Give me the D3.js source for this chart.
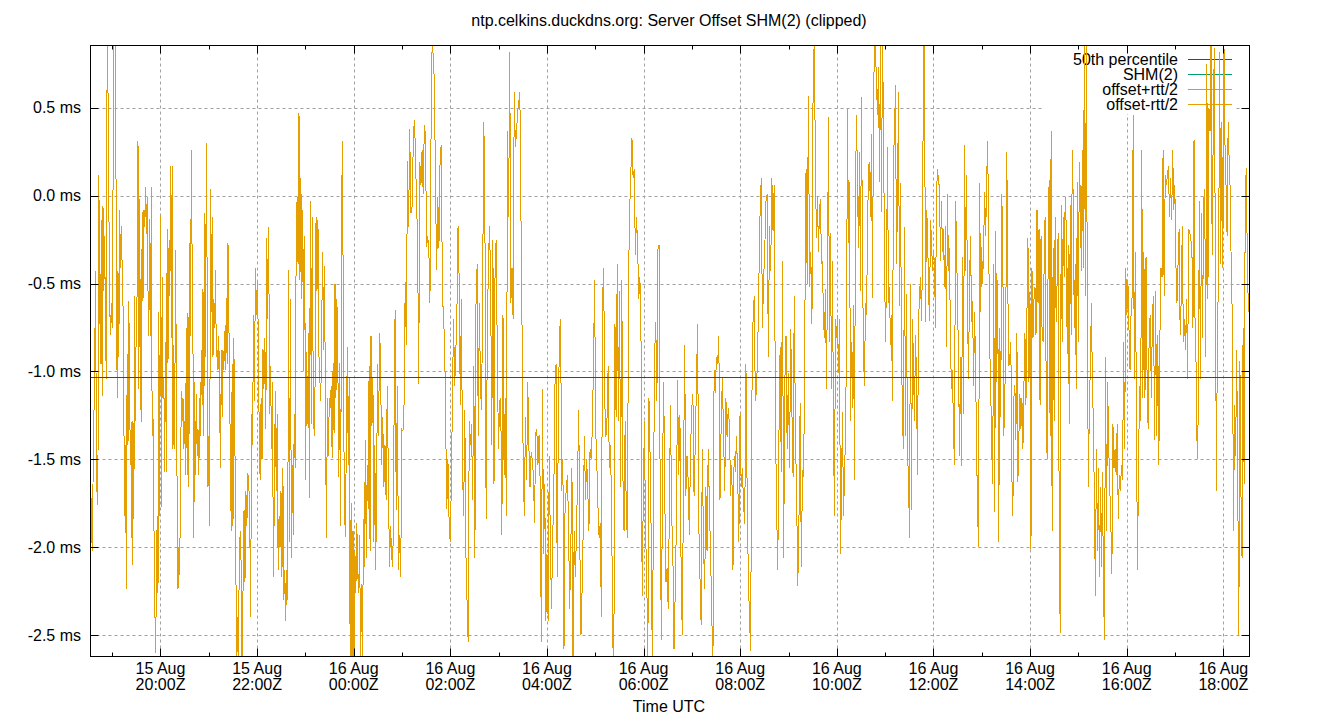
<!DOCTYPE html>
<meta charset="utf-8">
<style>
  body { margin: 0; background: #fff; }
  text { font-family: "Liberation Sans", Arial, sans-serif; font-size: 16px; fill: #000; }
</style>

<!-- Load d3.js -->
<script src="https://d3js.org/d3.v7.js"></script>

<div id="my_dataviz"></div>

<script>

// each chunk covers about 3 hours, samples spread evenly inside its span
const chunkBounds = ["2024-08-15T18:33:04Z", "2024-08-15T21:33:09Z", "2024-08-16T00:33:14Z",
  "2024-08-16T03:33:18Z", "2024-08-16T06:33:24Z", "2024-08-16T09:33:29Z",
  "2024-08-16T12:33:35Z", "2024-08-16T15:33:40Z", "2024-08-16T18:32:32Z"];

// SHM(2) offset, ms
const chunk1 = [-1.64,-1.77,-2.02,-1.64,-1.28,-0.99,-0.43,-1.37,-1.76,-1.50,0.12,-0.57,-0.96,-0.14,-1.14,-0.06,-0.54,-0.23,-0.79,-1.04,0.95,0.60,-0.03,-0.61,-0.79,-0.61,-0.75,0.01,0.82,0.95,0.72,-0.30,-1.15,-0.43,-0.92,-0.08,-0.41,-0.17,-0.41,-0.61,-1.24,-1.82,-1.42,-2.24,-0.90,-1.42,-0.60,-1.19,-1.53,-1.29,-2.10,-1.28,-1.84,-0.57,-1.28,-0.61,-0.57,0.31,-1.10,-0.02,-1.10,-1.29,-0.09,-0.60,-0.08,-0.18,0.05,-0.22,-0.01,-0.54,-0.80,-0.13,-0.80,0.05,-1.37,-1.26,-1.81,-2.26,-2.60,-2.27,-1.82,-2.26,-0.66,-1.82,-0.11,-1.77,-0.46,-1.15,-1.04,-1.57,-0.83,-1.57,-0.19,-0.95,-0.30,-0.57,0.17,-0.81,0.17,-1.44,-0.85,-1.44,-0.31,-0.99,-1.73,-2.24,-2.00,-2.16,-1.66,-1.11,-1.28,-1.15,-1.44,-1.28,-1.59,-0.75,-1.59,-0.67,-1.66,-0.27,-0.80,0.26,-0.39,-0.88,-1.95,-1.06,-1.59,-1.13,-1.48,-1.33,-1.59,-1.15,-1.37,-0.88,-1.19,-0.53,-1.37,-0.10,-0.92,0.30,-0.50,-1.66,-1.37,-1.88,0.04,-0.66,-0.12,-0.92,-0.59,-0.75,-0.42,-0.92,-0.88,-0.99,-0.80,-1.21,-1.55,-0.88,-1.26,-0.88,-0.99,-0.77,-0.99,-0.58,-0.96,-0.27,-0.70,-1.08,-1.59,-1.91,-0.96,-1.88,-0.81,-1.37];
const chunk2 = [-1.64,-2.7,-2.40,-2.7,-2.06,-1.91,-2.11,-2.7,-2.22,-1.79,-2.20,-1.68,-1.88,-1.58,-1.63,-1.82,-2.40,-1.24,-1.42,-0.68,-1.17,-0.41,-0.68,-0.48,-0.77,-1.34,-1.62,-1.15,-1.50,-0.87,-1.10,-0.81,-1.33,-0.24,-0.70,-0.18,-1.24,-0.97,-1.44,-1.06,-2.17,-1.73,-1.11,-1.68,-1.24,-2.13,-1.82,-2.00,-1.68,-2.17,-1.55,-2.30,-2.13,-2.42,-2.13,-2.30,-0.42,-1.97,-0.59,-2.06,-1.53,-1.93,-1.24,-1.55,-0.30,-0.01,-0.39,0.47,-0.48,0.10,-0.59,-0.08,-1.00,-0.23,-1.62,-0.89,-1.30,-0.78,-1.72,-0.03,-1.30,-0.12,-1.08,-1.37,-1.06,-0.12,-0.54,-0.14,-0.90,-1.04,-1.17,-0.71,-0.32,-0.88,-0.40,-1.33,-1.95,-1.15,-1.48,-1.15,-1.21,-1.08,-1.49,-0.95,-1.35,-0.50,-1.15,-0.59,-0.95,-1.60,-0.95,-1.88,-0.01,0.31,-1.13,-1.79,-1.94,-1.37,-0.86,-1.53,-1.04,-2.7,-1.75,-2.7,-1.91,-2.7,-2.02,-2.26,-1.86,-2.15,-2.26,-1.93,-2.7,-2.21,-2.7,-1.84,-2.11,-1.39,-2.06,-1.53,-1.78,-0.97,-2.02,-0.80,-1.31,-1.04,-1.97,-1.42,-2.13,-1.55,-0.96,-1.37,-0.78];
const chunk3 = [-0.90,-1.53,-1.26,-1.66,-1.42,-1.73,-1.08,-1.59,-2.11,-1.88,-2.06,-2.11,-1.33,-0.65,-1.79,-1.08,-2.13,-1.93,-2.17,-1.33,-1.34,-1.18,-0.49,-0.85,0.20,-0.18,0.38,-0.10,-0.08,0.24,0.43,0.29,-0.03,-0.24,-1.07,0.19,0.06,0.26,0.01,0.40,0.35,-0.29,-0.23,-0.30,-0.61,0.37,0.90,0.78,0.64,0.01,-0.42,-0.01,-0.30,0.19,0.29,-0.46,-0.73,-0.79,-1.30,-1.78,-1.50,-1.84,-1.97,-1.66,-1.17,-0.70,-1.08,-0.90,-0.66,-0.17,-0.48,-1.19,-0.59,-1.56,-1.82,-1.22,-2.04,-2.30,-2.54,-1.28,-1.42,-1.30,-1.73,-0.97,-2.06,-0.61,-0.39,-1.37,-0.61,-1.11,-1.22,-0.41,0.42,-0.27,-1.84,-0.83,-0.39,-0.17,-0.48,-1.42,-0.25,-1.64,-0.34,-0.25,-0.97,-1.44,-1.17,-1.15,-1.93,-0.68,-1.59,-1.15,-1.82,0.37,-0.12,0.82,-0.61,-0.41,-0.70,0.59,0.28,0.35,0.48,0.53,0.59,-0.12,-0.79,-1.55,-1.82];
const chunk4 = [-1.26,-1.62,-1.06,-1.42,-1.66,-1.46,-1.50,-1.59,-1.86,-1.35,-1.33,-1.53,-1.36,-1.64,-2.54,-1.10,-2.04,-1.64,-2.42,-2.04,-2.42,-1.48,-1.99,-2.35,-1.95,-1.71,-1.08,-0.96,-2.17,-1.28,-0.78,-0.70,-1.68,-1.50,-2.58,-1.73,-1.68,-1.59,-1.86,-2.35,-2.02,-1.55,-2.7,-1.91,-2.17,-1.93,-1.59,-1.22,-2.00,-2.50,-2.24,-1.88,-1.37,-1.73,-1.50,-1.68,-1.91,-1.44,-1.50,-1.33,-0.97,-0.48,-1.33,-1.53,-1.77,-1.95,-1.86,-2.40,-0.61,-0.41,-1.17,-1.37,-1.26,-0.97,-1.55,-1.42,-1.75,-2.53,-2.7,-0.73,-1.26,-0.39,-1.28,-0.54,-1.66,-0.48,-1.59,-1.91,-1.28,-1.82,-1.95,-0.46,-0.08,0.13,0.33,0.10,0.15,-0.34,-0.12,-0.28,-0.59,-0.46,-0.83,-2.28,-1.71,-1.28,-1.93,-2.13,-2.7,-1.15,-1.48,-1.95,-2.7,-1.73,-0.90,-0.72,-1.17,-0.30,-0.28,-1.89,-2.53,-1.55,-1.06,-1.73,-2.20,-2.12,-2.35,-1.79];
const chunk5 = [-1.19,-1.82,-2.02,-2.58,-2.26,-1.86,-1.05,-1.59,-1.25,-2.11,-2.50,-1.68,-0.85,-1.71,-1.48,-1.62,-1.93,-1.46,-1.21,-1.13,-1.71,-1.42,-1.08,-0.73,-1.86,-2.17,-2.44,-1.44,-1.98,-2.24,-1.66,-2.02,-1.44,-1.75,-2.04,-2.37,-2.7,-0.99,-1.12,-0.92,-0.96,-0.80,-1.73,-1.30,-1.04,-1.35,-1.68,-1.15,-1.37,-1.21,-1.30,-1.71,-1.53,-2.13,-1.48,-1.57,-1.37,-1.59,-1.97,-1.24,-1.66,-1.55,-1.76,-1.87,-0.96,-1.66,-2.15,-2.40,-2.59,-1.18,-0.72,-0.57,-1.17,-1.10,-0.88,-0.48,-0.10,0.10,-0.75,-0.48,-0.30,-0.03,0.01,-0.92,-0.17,-0.43,0.10,-0.20,0.06,-1.26,-1.77,-2.13,-1.37,-0.86,-1.57,-0.37,-2.06,-1.06,-0.80,-1.44,-1.01,-1.55,-0.76,-1.22,-1.60,-0.57,-1.35,-1.71,-2.22,-1.84,-1.18,-2.11,-1.56,-1.60,-0.70,0.15,-0.50,0.57,-0.52,-0.32,-0.73,0.64,0.90];
const chunk6 = [0.12,-0.24,-0.01,-0.32,-0.08,-0.02,-0.39,-0.37,-0.71,-0.81,-0.53,-1.10,-0.48,0.45,-0.83,-0.21,-1.10,-0.37,-1.34,-1.82,-0.70,-0.81,-0.68,-1.01,-0.70,-2.04,-1.68,-1.23,-1.82,-1.62,-1.35,-0.86,0.50,-0.27,0.08,-1.28,-0.83,-1.21,-0.62,-1.62,0.02,0.46,0.09,-0.30,0.25,-0.54,0.56,-0.32,-0.92,-1.08,-0.61,-0.68,-0.25,0.17,0.19,-0.12,0.35,-0.58,0.48,0.90,0.84,0.64,0.46,0.73,0.08,0.90,-0.09,0.90,0.43,-0.35,-0.83,-0.48,0.28,-0.61,-0.52,-0.85,-0.68,-1.17,0.22,0.35,0.63,-0.39,-0.04,0.59,-0.63,0.07,-0.83,-1.28,-1.44,-0.18,-1.37,-0.56,-1.48,-1.59,-1.95,-0.50,-1.79,-0.70,-0.97,-1.28,-0.79,-1.04,-1.59,-0.73,-0.57,-0.46,-0.71,-0.37,0.90,0.90,-0.72,-0.08,-0.17,-0.52,-0.71,-0.14,-0.24,-0.43,-0.31,-0.39,-0.75,0.01,0.15,0.09,0.04,-0.37,-0.03,-0.32,-0.19,-0.52,-0.17,-0.86,0.01,-0.43,-0.30,-0.86,-1.10,-0.99,-1.35,-1.53,-0.03,-0.25,-0.61,-0.90,-1.48];
const chunk7 = [-0.92,-1.54,-0.35,-1.24,0.29,-0.43,0.12,-0.66,-1.04,-0.48,-0.23,-0.72,-0.60,-1.08,-0.66,-0.97,-1.45,-1.80,-2.00,0.07,-0.66,-0.29,-0.50,-0.28,0.02,-0.23,0.09,0.31,-0.25,-0.86,-1.08,-1.44,-1.64,-0.39,-1.80,-0.20,-1.06,-0.48,-1.97,-0.75,-1.26,0.01,-0.27,-1.37,-1.17,-0.73,0.25,-0.53,-0.97,-0.92,-0.83,-1.59,-1.82,-1.15,-1.08,-1.39,-0.78,-1.63,-1.37,-1.13,-1.33,-1.15,-1.44,-1.08,-0.78,-1.19,-0.67,-0.24,-1.06,-0.55,-2.01,-0.41,-0.81,-0.59,-0.52,-0.79,-0.08,-0.61,-0.19,-1.19,-0.23,-0.77,-0.83,-0.43,-0.12,-0.99,-1.50,-0.40,0.09,-1.37,0.37,-1.91,-0.30,-1.28,-0.12,-0.72,-0.48,-0.21,-1.82,-2.49,-0.05,-0.83,-0.12,-0.46,-0.01,-0.17,-0.90,-0.28,-1.30,-0.05,-0.79,0.26,-0.03,-0.75,-0.39,-1.10,0.08,-0.83,0.19,0.01,-0.43,0.26,-0.41,0.90,-0.57,0.90,-0.70,-1.66,-1.19,-0.97,-0.61,-1.06,-1.30,-1.75,-2.28,-1.44,-2.02,-1.55,-2.17,-1.66,-2.11,-1.57,-2.24,-2.53];
const chunk8 = [-0.92,-1.91,-1.06,-1.42,-1.66,-1.86,-2.15,-1.30,-1.55,-1.44,-1.59,-1.30,-1.84,-1.59,-1.68,-1.53,-1.62,-0.83,-1.44,-0.41,-0.68,-0.48,-0.75,-0.99,-0.66,-0.57,0.46,-1.04,-0.32,-1.24,-2.13,-1.51,-1.08,-1.28,0.26,-1.15,-0.32,-1.15,-0.35,-1.04,-1.33,-0.75,-0.68,-1.15,-0.68,-0.57,-1.39,-0.54,-1.37,-0.79,-1.53,-0.81,-0.41,-0.46,0.26,-0.57,0.12,0.06,0.11,0.17,-0.12,0.10,-0.14,0.26,-0.08,0.06,-0.39,-0.61,-0.39,-0.19,-0.79,-0.59,-0.17,-0.83,-0.70,-0.88,-0.59,-1.04,-0.19,-0.21,-0.25,-0.30,-0.75,0.32,-0.79,-0.97,-1.50,-1.24,-0.03,-1.04,-0.10,-0.81,-0.03,0.04,-0.92,0.75,-0.59,0.50,0.37,0.90,-0.34,0.37,0.84,-0.39,-1.68,-0.68,-0.52,0.82,-0.39,0.42,-0.41,0.90,0.30,0.06,-0.23,0.42,0.19,0.01,-0.48,-0.70,-1.91,-1.19,-1.48,-0.88,-1.66,-2.50,-0.94,-1.70,-2.06,-0.75,-1.64,-0.01,0.16,-0.39,-0.66];

const percentile50 = -1.03;
const yTicks = [0.5, 0.0, -0.5, -1.0, -1.5, -2.0, -2.5];
const seriesNames = ["50th percentile", "SHM(2)", "offset+rtt/2", "offset-rtt/2"];
const seriesColors = ["#9400d3", "#009e73", "#56b4e9", "#e69f00"];

// plot frame
const W = 1340, H = 720;
const pL = 90.5, pR = 1249.5, pT = 45.5, pB = 656.5;

const svg = d3.select("#my_dataviz")
  .append("svg")
    .attr("width", W)
    .attr("height", H);

const x = d3.scaleUtc()
  .domain([new Date(chunkBounds[0]), new Date(chunkBounds[chunkBounds.length - 1])])
  .range([pL, pR]);

const y = d3.scaleLinear()
  .domain([-2.622, 0.855])
  .range([pB, pT]);

// samples: every chunk spread over its own time span, rtt is zero for a refclock
const chunks = [chunk1, chunk2, chunk3, chunk4, chunk5, chunk6, chunk7, chunk8];
const data = [];
chunks.forEach((vals, k) => {
  const t0 = +new Date(chunkBounds[k]), t1 = +new Date(chunkBounds[k + 1]);
  vals.forEach((v, i) => {
    data.push({t: new Date(t0 + (t1 - t0) * i / vals.length), off: v, up: v, down: v});
  });
});

const majorTicks = x.ticks(d3.utcHour.every(2));
const minorTicks = x.ticks(d3.utcHour.every(1)).filter(d => d.getUTCHours() % 2 === 1);

// grid
const grid = svg.append("g")
  .attr("stroke", "#a0a0a0")
  .attr("stroke-width", 1)
  .attr("stroke-dasharray", "3,3");
grid.selectAll("line.h")
  .data(yTicks)
  .join("line")
    .attr("class", "h")
    .attr("x1", pL).attr("x2", pR)
    .attr("y1", d => Math.round(y(d)) + 0.5).attr("y2", d => Math.round(y(d)) + 0.5);
grid.selectAll("line.v")
  .data(majorTicks)
  .join("line")
    .attr("class", "v")
    .attr("x1", d => Math.round(x(d)) + 0.5).attr("x2", d => Math.round(x(d)) + 0.5)
    .attr("y1", pT).attr("y2", pB);

// key box hides the grid behind it
const keyX = 1178, keyY0 = 59, keyDy = 15;
svg.append("rect")
  .attr("x", 1044).attr("y", pT + 0.5)
  .attr("width", 192).attr("height", 68)
  .attr("fill", "#fff");
const legend = svg.append("g");
seriesNames.forEach((name, i) => {
  legend.append("text")
    .attr("x", keyX)
    .attr("y", keyY0 + i * keyDy + 5.5)
    .attr("text-anchor", "end")
    .text(name);
  legend.append("line")
    .attr("x1", 1188).attr("x2", 1232)
    .attr("y1", keyY0 + i * keyDy + 0.5).attr("y2", keyY0 + i * keyDy + 0.5)
    .attr("stroke", seriesColors[i])
    .attr("stroke-width", 1);
});

// data lines, clipped to the frame
svg.append("clipPath")
  .attr("id", "plotclip")
  .append("rect")
    .attr("x", pL).attr("y", pT)
    .attr("width", pR - pL).attr("height", pB - pT);

const plot = svg.append("g").attr("clip-path", "url(#plotclip)");
["off", "up", "down"].forEach((field, i) => {
  plot.append("path")
    .datum(data)
    .attr("fill", "none")
    .attr("stroke", seriesColors[i + 1])
    .attr("stroke-width", 1)
    .attr("shape-rendering", "crispEdges")
    .attr("d", d3.line().x(d => x(d.t)).y(d => y(d[field])));
});

plot.append("line")
  .attr("x1", pL).attr("x2", pR)
  .attr("y1", Math.round(y(percentile50)) + 0.5).attr("y2", Math.round(y(percentile50)) + 0.5)
  .attr("stroke", seriesColors[0])
  .attr("stroke-width", 1);

// border and ticks
svg.append("rect")
  .attr("x", pL).attr("y", pT)
  .attr("width", pR - pL).attr("height", pB - pT)
  .attr("fill", "none")
  .attr("stroke", "#000")
  .attr("stroke-width", 1);

const ticks = svg.append("g").attr("stroke", "#000").attr("stroke-width", 1);
yTicks.forEach(v => {
  const yy = Math.round(y(v)) + 0.5;
  ticks.append("line").attr("x1", pL).attr("x2", pL + 8).attr("y1", yy).attr("y2", yy);
  ticks.append("line").attr("x1", pR).attr("x2", pR - 8).attr("y1", yy).attr("y2", yy);
});
majorTicks.forEach(d => {
  const xx = Math.round(x(d)) + 0.5;
  ticks.append("line").attr("x1", xx).attr("x2", xx).attr("y1", pB).attr("y2", pB - 8);
  ticks.append("line").attr("x1", xx).attr("x2", xx).attr("y1", pT).attr("y2", pT + 8);
});
minorTicks.forEach(d => {
  const xx = Math.round(x(d)) + 0.5;
  ticks.append("line").attr("x1", xx).attr("x2", xx).attr("y1", pB).attr("y2", pB - 4);
  ticks.append("line").attr("x1", xx).attr("x2", xx).attr("y1", pT).attr("y2", pT + 4);
});

// tick labels
svg.append("g").selectAll("text")
  .data(yTicks)
  .join("text")
    .attr("x", 81)
    .attr("y", d => y(d) + 5.5)
    .attr("text-anchor", "end")
    .text(d => d.toFixed(1) + " ms");

const fmtDay = d3.utcFormat("%d %b"), fmtTime = d3.utcFormat("%H:%MZ");
const xl = svg.append("g").selectAll("g")
  .data(majorTicks)
  .join("g")
    .attr("transform", d => `translate(${x(d)},0)`);
xl.append("text").attr("y", 674).attr("text-anchor", "middle").text(d => fmtDay(d));
xl.append("text").attr("y", 690).attr("text-anchor", "middle").text(d => fmtTime(d));

// titles
svg.append("text")
  .attr("x", 669).attr("y", 26)
  .attr("text-anchor", "middle")
  .text("ntp.celkins.duckdns.org: Server Offset SHM(2) (clipped)");

svg.append("text")
  .attr("x", 669).attr("y", 712)
  .attr("text-anchor", "middle")
  .text("Time UTC");

</script>
